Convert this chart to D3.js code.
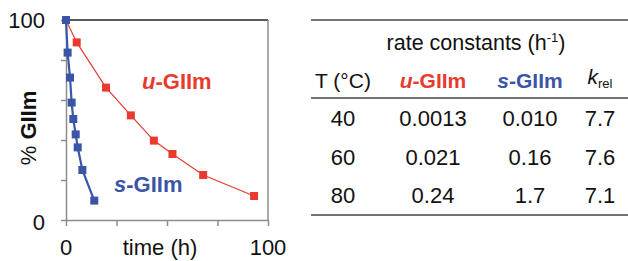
<!DOCTYPE html>
<html lang="en">
<head>
<meta charset="utf-8">
<title>GIIm decay and rate constants</title>
<script src="https://cdn.jsdelivr.net/npm/d3@7"></script>
<style>
  body { margin: 0; background: #fff; }
  svg text { font-family: "Liberation Sans", Arial, sans-serif; fill: #111; }
  .axis path, .axis line { stroke: #8c8c8c; stroke-width: 1.5; }
</style>
</head>
<body>
<script>
// decay curves: [time (h), % GIIm]
var uTime = [0, 5.3, 19.8, 32.1, 43.5, 52.7, 67.9, 93.1];
var uPct  = [100, 88.8, 66.2, 52.3, 39.7, 33, 22.5, 12];
var sTime = [0, 0.8, 2.0, 2.8, 3.6, 4.8, 5.8, 8.1, 14.0];
var sPct  = [100, 83.7, 71.2, 58.7, 50.5, 42.8, 36.3, 25, 9.7];

// table of rate constants
var temps   = ["40", "60", "80"];
var uRates  = ["0.0013", "0.021", "0.24"];
var sRates  = ["0.010", "0.16", "1.7"];
var kRel    = ["7.7", "7.6", "7.1"];
var columns = ["T", "u", "s", "k"];

var red = "#e83a2e", blue = "#3b55a6";
var w = 628, h = 261;

var svg = d3.select("body").append("svg")
    .attr("width", w).attr("height", h);

//---- chart
var x = d3.scaleLinear().domain([0, 100]).range([66, 268]);
var y = d3.scaleLinear().domain([0, 100]).range([220, 20]);

// frame: top black, right grey
svg.append("line").attr("x1", x(0)).attr("x2", x(100))
    .attr("y1", y(100)).attr("y2", y(100))
    .attr("stroke", "#222").attr("stroke-width", 1.6);
svg.append("line").attr("x1", x(100)).attr("x2", x(100))
    .attr("y1", y(100)).attr("y2", y(0))
    .attr("stroke", "#8c8c8c").attr("stroke-width", 1.5);

var xAxis = d3.axisBottom(x).tickValues([0, 25, 50, 75, 100])
    .tickSize(6).tickSizeOuter(0).tickFormat("");
var yAxis = d3.axisLeft(y).tickValues([0, 20, 40, 60, 80, 100])
    .tickSize(5).tickSizeOuter(0).tickFormat("");

svg.append("g").attr("class", "axis")
    .attr("transform", "translate(0," + y(0) + ")").call(xAxis);
svg.append("g").attr("class", "axis")
    .attr("transform", "translate(" + x(0) + ",0)").call(yAxis);

// tick labels
svg.append("text").attr("x", 45).attr("y", y(100) + 8)
    .attr("text-anchor", "end").attr("font-size", 22).text("100");
svg.append("text").attr("x", 45).attr("y", y(0) + 10)
    .attr("text-anchor", "end").attr("font-size", 22).text("0");
svg.append("text").attr("x", x(0)).attr("y", 255)
    .attr("text-anchor", "middle").attr("font-size", 22).text("0");
svg.append("text").attr("x", x(100)).attr("y", 255)
    .attr("text-anchor", "middle").attr("font-size", 22).text("100");
svg.append("text").attr("x", 160).attr("y", 255)
    .attr("text-anchor", "middle").attr("font-size", 22).text("time (h)");

var yl = svg.append("text").attr("transform", "translate(36,128) rotate(-90)")
    .attr("text-anchor", "middle").attr("font-size", 22);
yl.append("tspan").text("%  ");
yl.append("tspan").attr("font-weight", "bold").text("GIIm");

var line = d3.line().x(function(d) { return x(d[0]); }).y(function(d) { return y(d[1]); });

function series(t, p, col, lw) {
  var pts = d3.zip(t, p);
  svg.append("path").datum(pts).attr("d", line)
     .attr("fill", "none").attr("stroke", col).attr("stroke-width", lw);
  svg.selectAll(null).data(pts).enter().append("rect")
     .attr("x", function(d) { return x(d[0]) - 4; })
     .attr("y", function(d) { return y(d[1]) - 4; })
     .attr("width", 8).attr("height", 8)
     .attr("fill", col);
}
series(uTime, uPct, red, 1.2);
series(sTime, sPct, blue, 2.2);

function giim(sel, letter, col) {
  sel.attr("font-weight", "bold").style("fill", col);
  sel.append("tspan").attr("font-style", "italic").text(letter);
  sel.append("tspan").text("-GIIm");
}
giim(svg.append("text").attr("x", 142).attr("y", 89).attr("font-size", 22), "u", red);
giim(svg.append("text").attr("x", 114).attr("y", 192).attr("font-size", 22), "s", blue);

//---- table
var col = d3.scaleOrdinal().domain(columns).range([343, 433, 530, 600]);
var row = d3.scalePoint().domain(temps).range([118, 195]);

[20, 98, 215].forEach(function(yy) {
  svg.append("line").attr("x1", 311).attr("x2", w)
     .attr("y1", yy).attr("y2", yy)
     .attr("stroke", "#444").attr("stroke-width", 1.6);
});

var title = svg.append("text").attr("x", 476).attr("y", 50)
    .attr("text-anchor", "middle").attr("font-size", 21.5);
title.append("tspan").text("rate constants (h");
title.append("tspan").attr("font-size", 13).attr("dy", -8).text("-1");
title.append("tspan").attr("dy", 8).text(")");

var hy = 88;
svg.append("text").attr("x", col("T")).attr("y", hy)
    .attr("text-anchor", "middle").attr("font-size", 21).text("T (°C)");
giim(svg.append("text").attr("x", col("u")).attr("y", hy)
    .attr("text-anchor", "middle").attr("font-size", 21), "u", red);
giim(svg.append("text").attr("x", col("s")).attr("y", hy)
    .attr("text-anchor", "middle").attr("font-size", 21), "s", blue);
var kh = svg.append("text").attr("x", col("k")).attr("y", 84)
    .attr("text-anchor", "middle").attr("font-size", 21);
kh.append("tspan").attr("font-style", "italic").text("k");
kh.append("tspan").attr("font-size", 13).attr("dy", 4).text("rel");

var cells = [temps, uRates, sRates, kRel];
cells.forEach(function(vals, i) {
  svg.selectAll(null).data(vals).enter().append("text")
     .attr("x", col(columns[i]))
     .attr("y", function(d, j) { return row(temps[j]) + 8; })
     .attr("text-anchor", "middle").attr("font-size", 22)
     .text(function(d) { return d; });
});
</script>
</body>
</html>
